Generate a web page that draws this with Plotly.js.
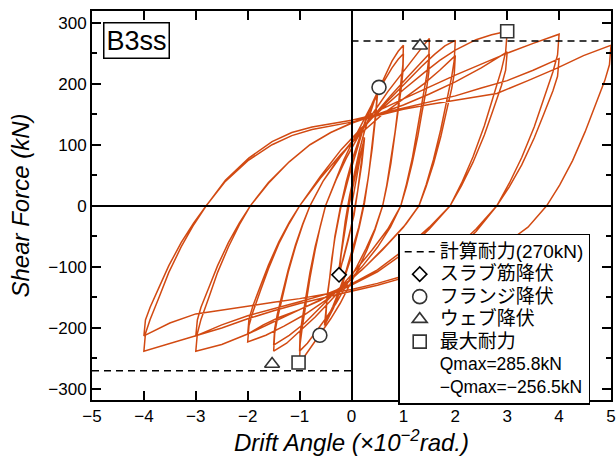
<!DOCTYPE html>
<html><head><meta charset="utf-8">
<script src="https://cdn.plot.ly/plotly-3.0.1.min.js"></script>
<style>body{margin:0;background:#fff}</style>
</head><body>
<div id="chart" style="width:616px;height:465px"></div>
<script>
// Hysteresis loop, one block per drift amplitude (x: drift angle ×10^-2 rad, y: shear kN)
const cyc025X = [0,0.08,0.17,0.25, 0.2,0.12,0.05,-0.05,-0.15,-0.24, -0.2,-0.12,-0.05,0.05,0.15,0.25, 0.2,0.12,0.04,-0.06,-0.16,-0.25];
const cyc025Y = [0,40,80,112, 75,25,-15,-50,-85,-113, -80,-35,0,40,80,110, 70,25,-15,-55,-88,-110];

const cyc05X = [-0.2,-0.12,-0.04,0.06,0.15,0.25,0.35,0.43,0.5, 0.47,0.4,0.33,0.25,0.15,0.03,-0.1,-0.22,-0.35,-0.45,-0.52,
                -0.48,-0.4,-0.32,-0.22,-0.1,0.03,0.15,0.27,0.38,0.5, 0.47,0.4,0.32,0.24,0.14,0.02,-0.1,-0.23,-0.36,-0.5];
const cyc05Y = [-75,-25,15,55,90,122,150,170,188, 155,100,50,5,-35,-75,-110,-140,-168,-185,-196,
                -160,-100,-50,-5,40,80,112,140,162,182, 150,95,45,5,-35,-72,-105,-137,-165,-190];

const cyc1X = [-0.49,-0.47,-0.42,-0.38,-0.32,-0.26,-0.2,-0.05,0.1,0.25,0.4,0.53,0.65,0.78,0.9,1.0,
               0.99,0.96,0.9,0.84,0.76,0.68,0.6,0.45,0.3,0.12,-0.05,-0.22,-0.4,-0.61,-0.78,-0.9,-1.0,
               -0.99,-0.95,-0.875,-0.8,-0.7,-0.6,-0.5,-0.33,-0.15,0.05,0.25,0.45,0.62,0.78,0.9,1.0,
               0.99,0.96,0.9,0.84,0.76,0.68,0.6,0.45,0.28,0.1,-0.1,-0.3,-0.5,-0.7,-0.85,-1.0];
const cyc1Y = [-167,-148,-118,-87,-53,-25,0,48,92,133,168,192,215,237,253,263,
               231,205,163,121,74,34,0,-40,-72,-105,-132,-160,-185,-211,-233,-246,-256.5,
               -226,-200,-159,-118,-72,-33,0,38,75,110,143,175,203,226,240,249,
               219,194,154,115,70,32,0,-38,-70,-100,-130,-160,-185,-208,-225,-238];

const cyc15X = [-0.99,-0.95,-0.875,-0.8,-0.7,-0.6,-0.5,-0.3,-0.1,0.12,0.4,0.7,0.95,1.15,1.32,1.42,1.5,
                1.49,1.45,1.36,1.28,1.17,1.06,0.95,0.75,0.5,0.2,-0.1,-0.4,-0.7,-1.0,-1.25,-1.5,
                -1.48,-1.43,-1.325,-1.22,-1.08,-0.94,-0.8,-0.55,-0.25,0.05,0.4,0.75,1.05,1.3,1.5,
                1.49,1.45,1.36,1.28,1.17,1.06,0.95,0.7,0.4,0.1,-0.2,-0.55,-0.9,-1.2,-1.5];
const cyc15Y = [-209,-186,-148,-109,-67,-31,0,42,78,112,150,187,215,237,255,266,274,
                241,214,170,126,77,36,0,-35,-68,-100,-128,-155,-182,-206,-225,-238,
                -209,-186,-148,-109,-67,-31,0,40,78,110,145,180,208,230,249,
                219,194,154,115,70,32,0,-38,-72,-103,-132,-162,-192,-212,-228];

const cyc2X = [-1.48,-1.43,-1.325,-1.22,-1.08,-0.94,-0.8,-0.55,-0.2,0.2,0.6,1.0,1.35,1.6,1.8,2.0,
               1.98,1.93,1.825,1.72,1.58,1.44,1.3,1.05,0.7,0.3,-0.1,-0.5,-0.9,-1.3,-1.65,-2.0,
               -1.975,-1.9,-1.75,-1.6,-1.4,-1.2,-1.0,-0.6,-0.2,0.2,0.6,1.0,1.4,1.7,2.0,
               1.98,1.93,1.825,1.72,1.58,1.44,1.3,1.0,0.6,0.2,-0.2,-0.6,-1.0,-1.4,-1.7,-2.0];
const cyc2Y = [-201,-178,-141,-105,-64,-30,0,40,82,125,163,198,228,248,262,271,
               238,211,168,125,76,35,0,-30,-62,-97,-128,-155,-178,-197,-212,-223,
               -196,-174,-138,-103,-62,-29,0,45,85,120,150,175,200,222,246,
               216,192,153,113,69,32,0,-35,-72,-105,-133,-155,-170,-183,-195,-210];

const cyc3X = [-1.975,-1.9,-1.75,-1.6,-1.4,-1.2,-1.0,-0.6,-0.2,0.2,0.6,1.0,1.4,1.7,2.0,2.4,2.7,3.0,
               2.97,2.89,2.725,2.56,2.34,2.12,1.9,1.5,1.0,0.5,0,-0.5,-1.0,-1.5,-2.0,-2.5,-3.0,
               -2.97,-2.9,-2.74,-2.58,-2.37,-2.16,-1.95,-1.6,-1.2,-0.8,-0.4,0,0.5,1.0,1.5,2.0,2.5,3.0,
               2.97,2.89,2.725,2.56,2.34,2.12,1.9,1.5,1.0,0.5,0,-0.5,-1.0,-1.5,-2.0,-2.5,-3.0];
const cyc3Y = [-185,-164,-130,-97,-59,-27,0,48,92,128,160,190,218,238,255,272,280,285.8,
               252,223,177,131,80,37,0,-38,-78,-108,-130,-150,-170,-190,-210,-227,-238,
               -209,-186,-148,-109,-67,-31,0,37,72,100,120,135,150,165,183,203,226,252,
               222,197,156,116,71,33,0,-35,-73,-105,-128,-145,-157,-168,-180,-195,-213];

const cyc4X = [-2.97,-2.9,-2.74,-2.58,-2.37,-2.16,-1.95,-1.6,-1.2,-0.8,-0.4,0,0.5,1.0,1.5,2.0,2.5,3.0,3.5,4.0,
               3.97,3.88,3.7,3.52,3.28,3.04,2.8,2.4,2.0,1.5,1.0,0.5,0,-0.5,-1.0,-1.5,-2.0,-2.5,-3.0,-3.5,-4.0,
               -3.97,-3.88,-3.7,-3.52,-3.28,-3.04,-2.8,-2.43,-1.98,-1.53,-1.15,-0.76,0,0.5,1.0,1.5,2.0,2.5,3.0,3.5,4.0,
               3.97,3.88,3.7,3.52,3.28,3.04,2.8,2.4,2.0,1.5,1.0,0.5,0,-0.5,-1.0,-1.5,-2.0,-2.5,-3.0,-3.5,-4.0];
const cyc4Y = [-187,-166,-132,-98,-60,-28,0,38,72,100,120,135,155,175,195,214,232,250,266,281,
               247,219,174,129,79,37,0,-42,-75,-100,-118,-130,-140,-150,-160,-172,-185,-200,-213,-226,-238,
               -209,-186,-148,-109,-67,-31,0,42,78,105,120,129,140,150,160,170,180,193,205,222,241,
               212,188,149,111,67,31,0,-38,-70,-96,-115,-127,-137,-145,-152,-158,-164,-170,-177,-192,-213];

const cyc5X = [-3.97,-3.88,-3.7,-3.52,-3.28,-3.04,-2.8,-2.43,-1.98,-1.53,-1.15,-0.76,0,0.5,1.0,1.5,2.0,2.5,2.8,3.4,3.95,4.47,5.0,
               4.97,4.88,4.69,4.5,4.26,4.01,3.76,3.4,3.0];
const cyc5Y = [-187,-166,-132,-98,-60,-28,0,40,75,100,115,125,137,148,158,166,173,180,184,205,225,246,263,
               231,205,163,121,74,34,0,-35,-60];

// Calculated capacity and event points
const capacity = 270;
const slabYieldX = [-0.24], slabYieldY = [-113];
const flangeYieldX = [0.53, -0.61], flangeYieldY = [194, -212];
const webYieldX = [1.32, -1.53], webYieldY = [262, -259];
const maxX = [3.0, -1.02], maxY = [285.8, -256.5];
const xTicks = [-5,-4,-3,-2,-1,0,1,2,3,4,5];
const yTicks = [-300,-200,-100,0,100,200,300];

const loopX = [].concat(cyc025X, cyc05X, cyc1X, cyc15X, cyc2X, cyc3X, cyc4X, cyc5X);
const loopY = [].concat(cyc025Y, cyc05Y, cyc1Y, cyc15Y, cyc2Y, cyc3Y, cyc4Y, cyc5Y);

const lgFont = '"Liberation Sans", "Noto Sans CJK JP", sans-serif';
const lat = '"Liberation Sans", Arial, sans-serif';
const mk = (sym, size, lc) => ({symbol: sym, size: size, color: '#ffffff', line: {color: lc, width: 1.6}});
const big = t => '<span style="font-size:19px">' + t + '</span>';
const mid = t => '<span style="font-size:17.5px">' + t + '</span>';
const noMark = {color: 'rgba(0,0,0,0)', size: 1, line: {width: 0}};

const traces = [
  {x: loopX, y: loopY, mode: 'lines', line: {color: '#D24A12', width: 1.5}, showlegend: false, hoverinfo: 'skip'},
  {x: [0, 5], y: [capacity, capacity], mode: 'lines', line: {color: '#000', width: 1.5, dash: '7px,5px'}, name: big('計算耐力(270kN)')},
  {x: [-5, 0], y: [-capacity, -capacity], mode: 'lines', line: {color: '#000', width: 1.5, dash: '7px,5px'}, showlegend: false},
  {x: slabYieldX, y: slabYieldY, mode: 'markers', marker: mk('diamond', 11, '#000'), name: big('スラブ筋降伏')},
  {x: flangeYieldX, y: flangeYieldY, mode: 'markers', marker: mk('circle', 14, '#333'), name: big('フランジ降伏')},
  {x: webYieldX, y: webYieldY, mode: 'markers', marker: mk('triangle-up', 13, '#333'), name: big('ウェブ降伏')},
  {x: maxX, y: maxY, mode: 'markers', marker: mk('square', 13, '#333'), name: big('最大耐力')},
  {x: [null], y: [null], mode: 'markers', marker: noMark, name: mid('Qmax=285.8kN')},
  {x: [null], y: [null], mode: 'markers', marker: noMark, name: mid('−Qmax=−256.5kN')}
];

const axisCommon = {
  ticks: 'inside', ticklen: 9, tickwidth: 2, tickcolor: '#000',
  showline: true, linewidth: 2, linecolor: '#000', mirror: 'ticks',
  zeroline: true, zerolinewidth: 2, zerolinecolor: '#000', zerolinelayer: 'above traces',
  showgrid: false, tickfont: {family: lat, size: 17, color: '#000'}
};

const layout = {
  width: 616, height: 465,
  margin: {l: 92, r: 5, t: 11, b: 65},
  paper_bgcolor: '#fff', plot_bgcolor: '#fff',
  showlegend: true,
  xaxis: Object.assign({}, axisCommon, {
    range: [-5, 5], tickvals: xTicks,
    title: {text: 'Drift Angle (×10<sup>−2</sup>rad.)', font: {family: lat, size: 24, style: 'italic', color: '#000'}, standoff: 4}
  }),
  yaxis: Object.assign({}, axisCommon, {
    range: [-318, 319], tickvals: yTicks,
    minor: {dtick: 50, tick0: 0, ticks: 'inside', ticklen: 5, tickwidth: 2, tickcolor: '#000', showgrid: false},
    title: {text: 'Shear Force (kN)', font: {family: lat, size: 24, style: 'italic', color: '#000'}, standoff: 12}
  }),
  legend: {x: 0.59, y: 0.427, xanchor: 'left', yanchor: 'top', bgcolor: '#fff', bordercolor: '#000', borderwidth: 1.5,
           font: {family: lgFont, size: 15, color: '#000'}, tracegroupgap: 0, itemwidth: 30},
  annotations: [{
    xref: 'paper', yref: 'paper', x: 0.021, y: 0.972, xanchor: 'left', yanchor: 'top',
    text: 'B3ss', showarrow: false, font: {family: lat, size: 27, color: '#000'},
    bordercolor: '#000', borderwidth: 1.5, borderpad: 2, bgcolor: '#fff'
  }]
};

Plotly.newPlot('chart', traces, layout, {staticPlot: true, displayModeBar: false});
</script></body></html>
